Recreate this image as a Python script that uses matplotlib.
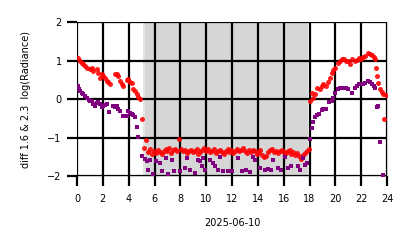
import matplotlib
matplotlib.use("Agg")
import matplotlib.pyplot as plt

# red: diff 1.6 um
red_t = [0.05, 0.2, 0.36, 0.5, 0.62, 0.8, 1.0, 1.13, 1.26, 1.52, 1.65, 1.78, 1.91, 2.04, 2.17,
         2.3, 2.43, 2.55, 2.94, 3.07, 3.2, 3.33, 3.45, 3.58, 3.84, 3.97, 4.1, 4.23, 4.36, 4.49,
         4.62, 4.75, 4.88, 5.0,
         5.20, 5.35, 5.50, 5.65, 5.80, 5.95, 6.10, 6.25, 6.40, 6.55, 6.70, 6.85, 7.00, 7.15,
         7.30, 7.45, 7.60, 7.75, 7.90, 8.05, 8.20, 8.35, 8.50, 8.65, 8.80, 8.95, 9.10, 9.25,
         9.40, 9.55, 9.70, 9.85, 10.00, 10.15, 10.30, 10.45, 10.60, 10.75, 10.90, 11.05, 11.20,
         11.35, 11.50, 11.65, 11.80, 11.95, 12.10, 12.25, 12.40, 12.55, 12.70, 12.85, 13.00,
         13.15, 13.30, 13.45, 13.60, 13.75, 13.90, 14.05, 14.20, 14.35, 14.50, 14.65, 14.80,
         14.95, 15.10, 15.25, 15.40, 15.55, 15.70, 15.85, 16.00, 16.15, 16.30, 16.45, 16.60,
         16.75, 16.90, 17.05, 17.20, 17.35, 17.50, 17.65, 17.80, 17.95,
         18.05, 18.17, 18.3, 18.42, 18.55, 18.8, 18.95, 19.07, 19.3, 19.45, 19.6, 19.7, 19.85,
         20.0, 20.2, 20.35, 20.5, 20.7, 20.85, 21.0, 21.13, 21.26, 21.5, 21.65, 21.8, 22.0,
         22.15, 22.3, 22.5, 22.65, 22.8, 22.95, 23.06, 23.15, 23.2, 23.3, 23.45, 23.6, 23.7,
         23.75, 23.9]
red_v = [1.07, 1.0, 0.94, 0.9, 0.85, 0.82, 0.77, 0.8, 0.73, 0.77, 0.68, 0.56, 0.64, 0.6, 0.55,
         0.47, 0.45, 0.38, 0.64, 0.66, 0.6, 0.47, 0.4, 0.34, 0.5, 0.51, 0.45, 0.43, 0.26, 0.2,
         0.13, 0.05, 0.0, -0.51,
         -1.28, -1.07, -1.38, -1.30, -1.42, -1.35, -1.40, -1.33, -1.38, -1.42, -1.36, -1.30,
         -1.34, -1.27, -1.40, -1.33, -1.29, -1.36, -1.03, -1.30, -1.35, -1.33, -1.40, -1.36,
         -1.32, -1.38, -1.34, -1.30, -1.42, -1.37, -1.33, -1.28, -1.35, -1.30, -1.38, -1.34,
         -1.29, -1.40, -1.36, -1.31, -1.38, -1.42, -1.35, -1.30, -1.37, -1.33, -1.40, -1.35,
         -1.30, -1.36, -1.32, -1.28, -1.35, -1.40, -1.33, -1.37, -1.31, -1.36, -1.42, -1.38,
         -1.33, -1.44, -1.50, -1.47, -1.38, -1.33, -1.30, -1.37, -1.34, -1.40, -1.35, -1.31,
         -1.38, -1.41, -1.36, -1.33, -1.42, -1.38, -1.44, -1.40, -1.47, -1.55, -1.45, -1.40,
         -1.36, -1.30,
         -0.05, 0.17, 0.04, 0.12, 0.3, 0.26, 0.35, 0.38, 0.34, 0.45, 0.56, 0.68, 0.75,
         0.81, 0.94, 1.0, 1.03, 1.03, 1.0, 0.98, 0.92, 1.03, 0.98, 1.02, 1.07, 1.03,
         1.08, 1.11, 1.2, 1.18, 1.15, 1.08, 1.03, 0.8, 0.6, 0.43, 0.26, 0.18, 0.13,
         -0.51, 0.1]

# purple: diff 2.3 um
pur_t = [0.05, 0.15, 0.23, 0.36, 0.49, 0.62, 0.75, 0.9, 1.0, 1.13, 1.26, 1.4, 1.52, 1.65, 1.78,
         1.91, 2.04, 2.17, 2.3, 2.5, 2.8, 2.94, 3.07, 3.2, 3.33, 3.58, 3.84, 3.97, 4.1, 4.23,
         4.36, 4.49, 4.62, 4.75, 5.0,
         5.25, 5.39, 5.52, 5.65, 5.9, 6.1, 6.4, 6.55, 6.9, 7.05, 7.33, 7.5, 7.97, 8.36, 8.49,
         8.75, 9.13, 9.39, 9.52, 9.65, 9.78, 9.9, 10.3, 10.55, 10.7, 10.94, 11.07, 11.3, 11.7,
         12.0, 12.48, 12.75, 13.1, 13.4, 13.65, 13.78, 14.16, 14.55, 14.8, 15.0, 15.2, 15.58,
         15.8, 16.1, 16.36, 16.6, 17.1, 17.26, 17.5, 17.65, 17.78,
         18.0, 18.15, 18.3, 18.4, 18.55, 18.7, 18.94, 19.07, 19.3, 19.5, 19.7, 19.85, 20.0,
         20.2, 20.35, 20.5, 20.7, 20.85, 21.0, 21.26, 21.5, 21.65, 21.8, 22.0, 22.15, 22.3,
         22.5, 22.65, 22.8, 22.95, 23.06, 23.2, 23.3, 23.45, 23.7]
pur_v = [0.34, 0.25, 0.21, 0.15, 0.13, 0.08, 0.04, -0.02, -0.04, -0.06, -0.13, -0.17, -0.1,
         -0.08, -0.12, -0.21, -0.18, -0.15, -0.13, -0.34, -0.17, -0.2, -0.17, -0.25, -0.3,
         -0.43, -0.43, -0.3, -0.35, -0.38, -0.42, -0.47, -0.72, -0.98, -1.49,
         -1.55, -1.62, -1.84, -1.58, -1.95, -1.62, -1.67, -1.88, -1.54, -1.95, -1.58, -1.88,
         -1.88, -1.79, -1.54, -1.84, -1.92, -1.58, -1.62, -1.75, -1.54, -1.84, -1.58, -1.67,
         -1.75, -1.84, -1.5, -1.88, -1.88, -1.86, -1.54, -1.88, -1.84, -1.9, -1.5, -1.58,
         -1.79, -1.84, -1.82, -1.84, -1.58, -1.79, -1.84, -1.5, -1.79, -1.75, -1.75, -1.84,
         -1.54, -1.71, -1.67,
         -1.03, -0.75, -0.6, -0.47, -0.42, -0.38, -0.28, -0.26, -0.26, -0.08, -0.05, 0.04, 0.15,
         0.26, 0.3, 0.3, 0.3, 0.28, 0.26, 0.17, 0.3, 0.33, 0.38, 0.38, 0.4, 0.43,
         0.47, 0.45, 0.38, 0.33, 0.3, -0.21, -0.17, -1.11, -1.97]

night_end = 5.25
night_start = 17.9
x_ticks = [0, 2, 4, 6, 8, 10, 12, 14, 16, 18, 20, 22, 24]
y_ticks = [-2, -1, 0, 1, 2]

fig = plt.figure(figsize=(4.14, 2.48), dpi=100)
ax = fig.add_axes([0.186, 0.290, 0.749, 0.621])

ax.axvspan(night_end - 0.15, night_end, color="#e4e4e4", lw=0, zorder=0)
ax.axvspan(night_end, night_start, color="#d6d6d6", lw=0, zorder=0)

ax.plot(red_t, red_v, "o", color="red", ms=3.6, mew=0, alpha=0.88, zorder=3)
ax.plot(pur_t, pur_v, "s", color="purple", ms=2.8, mew=0, zorder=4)

ax.set_xlim(0, 24)
ax.set_ylim(-2, 2)
ax.set_xticks(x_ticks)
ax.set_yticks(y_ticks)
ax.grid(True, color="black", lw=1.6, zorder=2)
ax.set_axisbelow(False)
ax.tick_params(direction="out", length=7, width=1.6, color="black", labelsize=7)
ax.tick_params(axis="x", pad=6)
ax.tick_params(axis="y", pad=4)
for s in ax.spines.values():
    s.set_color("#cccccc")
    s.set_linewidth(0.8)

ax.set_xlabel("2025-06-10", fontsize=7, labelpad=10)
ax.set_ylabel("diff 1.6 & 2.3  log(Radiance)", fontsize=7, labelpad=12)

fig.savefig("out.png", dpi=100)
